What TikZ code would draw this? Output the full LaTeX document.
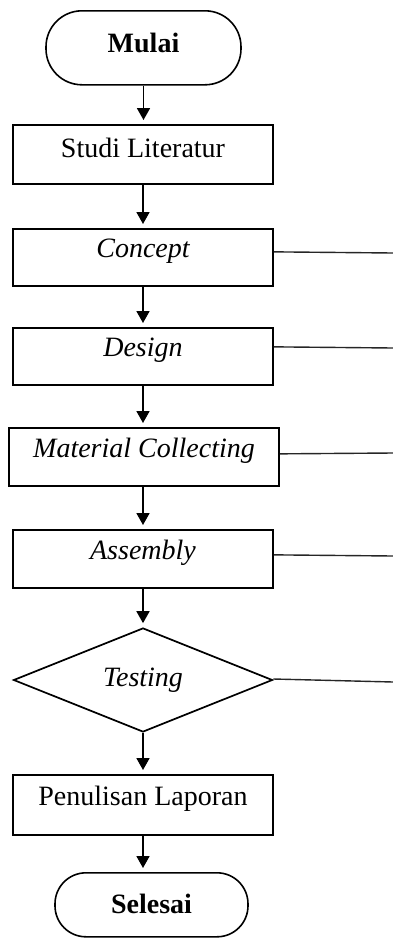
\documentclass[tikz,border=0pt]{standalone}
\usepackage{fontspec}
\setmainfont{Liberation Serif}
\usetikzlibrary{arrows.meta,shapes.geometric}

\tikzset{
  flowtext/.style={font=\fontsize{28}{34}\selectfont},
  stepbox/.style={flowtext, draw, line width=1.7pt, inner sep=0pt, minimum width=260pt, anchor=north},
  termbox/.style={flowtext, draw, line width=1.6pt, inner sep=0pt, anchor=north, font=\fontsize{28}{34}\selectfont\bfseries},
  decbox/.style={flowtext, draw, line width=1.7pt, diamond, aspect=2.5, inner sep=0pt,
                 minimum width=259pt, minimum height=104pt},
  flowarrow/.style={line width=1.8pt, -{Triangle[width=13pt,length=12pt]}, shorten >=4pt},
  sideline/.style={line width=1.4pt, black!85}
}

\begin{document}
\begin{tikzpicture}[x=1pt, y=-1pt]
  \useasboundingbox (0,0) rectangle (393,938);

  % main flow
  \node[termbox, minimum width=195pt, rounded corners=36pt, text height=42pt, text depth=32pt]
        (mulai) at (143.5,10) {Mulai};
  \node[stepbox, text height=32.7pt, text depth=26.3pt] (studi) at (143,124) {Studi Literatur};
  \node[stepbox, text height=29pt, text depth=28pt] (concept) at (143,228) {\itshape Concept};
  \node[stepbox, text height=29pt, text depth=28pt] (design) at (143,327) {\itshape Design};
  \node[stepbox, minimum width=270pt, text height=30pt, text depth=28pt] (material) at (144,427) {\itshape Material Collecting};
  \node[stepbox, text height=30pt, text depth=28pt] (assembly) at (143,529) {\itshape Assembly};
  \node[decbox] (testing) at (143,680) {\itshape Testing};
  \node[stepbox, text height=31pt, text depth=29pt] (laporan) at (143,774) {Penulisan Laporan};
  \node[termbox, minimum width=193pt, rounded corners=31pt, text height=41pt, text depth=23pt]
        (selesai) at (151.5,872) {Selesai};

  % arrows between the steps
  \draw[flowarrow] (mulai.south) -- (mulai.south |- studi.north);
  \draw[flowarrow] (studi.south) -- (concept.north);
  \draw[flowarrow] (concept.south) -- (design.north);
  \draw[flowarrow] (design.south) -- (design.south |- material.north);
  \draw[flowarrow] (material.south -| assembly.north) -- (assembly.north);
  \draw[flowarrow] (assembly.south) -- (testing.north);
  \draw[flowarrow] (testing.south) -- (laporan.north);
  \draw[flowarrow] (laporan.south) -- (laporan.south |- selesai.north);

  % lines leaving each stage to the right
  \coordinate (cR) at (393,253);
  \coordinate (dR) at (393,348);
  \coordinate (mR) at (393,453);
  \coordinate (aR) at (393,556);
  \coordinate (tR) at (393,682);
  \draw[sideline] ([yshift=5.5pt]concept.east) -- (cR);
  \draw[sideline] ([yshift=9.5pt]design.east) -- (dR);
  \draw[sideline] ([yshift=3pt]material.east) -- (mR);
  \draw[sideline] ([yshift=4pt]assembly.east) -- (aR);
  \draw[sideline] ([yshift=1pt]testing.east) -- (tR);
\end{tikzpicture}
\end{document}
